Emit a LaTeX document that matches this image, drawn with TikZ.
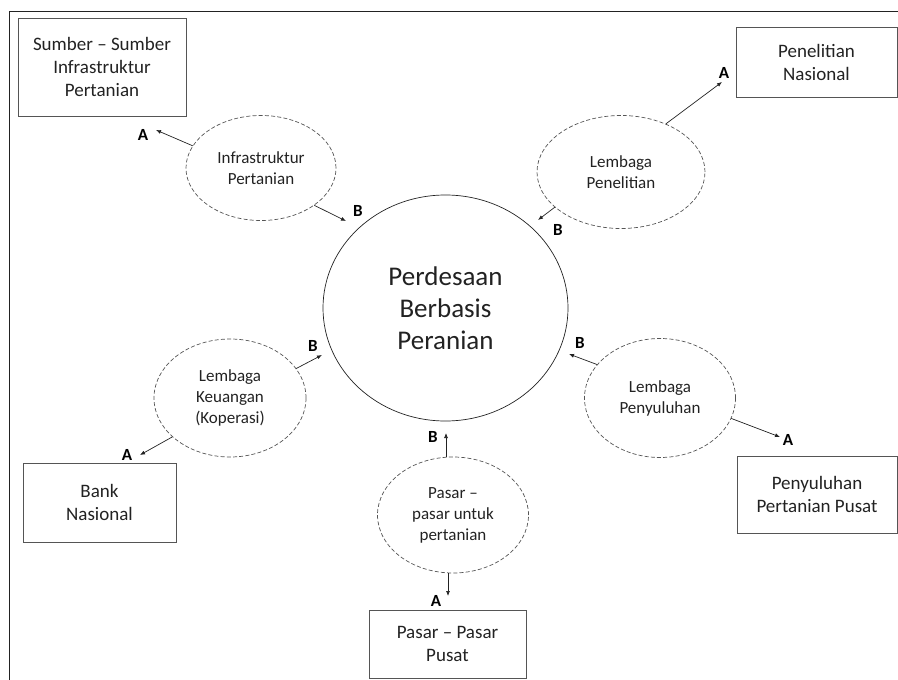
\documentclass[tikz,border=0pt]{standalone}
\usepackage{fontspec}
\setmainfont{Carlito}
\usetikzlibrary{shapes.geometric, arrows.meta, positioning}
\definecolor{ink}{HTML}{222222}
\definecolor{rulecolor}{HTML}{555555}
\tikzset{
  srcbox/.style ={draw=rulecolor, line width=0.8pt, rectangle, align=center,
                  text=ink, inner sep=0pt, font=\fontsize{19}{23}\selectfont},
  lembaga/.style={draw=rulecolor, ellipse, dash pattern=on 4pt off 2.2pt,
                  line width=0.7pt, align=center, text=ink, inner sep=0pt,
                  font=\fontsize{17}{21}\selectfont},
  core/.style   ={draw=ink, ellipse, line width=0.7pt, align=center, text=ink,
                  inner sep=0pt, font=\fontsize{27}{32}\selectfont},
  flow/.style   ={-{Latex[length=5pt,width=4pt]}, line width=0.7pt, draw=ink},
  tag/.style    ={font=\fontsize{17}{19}\selectfont\bfseries, text=black, inner sep=0pt}
}
\begin{document}
\begin{tikzpicture}[x=1pt, y=-1pt]
  \useasboundingbox (0,0) rectangle (898,680);
  % frame
  \draw[line width=0.8pt, draw=ink] (9,680) -- (9,11) -- (898,11);

  % centre
  \node[core, minimum width=245pt, minimum height=226pt] (desa) at (445.5,308)
       {Perdesaan\\Berbasis\\Peranian};

  % lembaga
  \node[lembaga, minimum width=150pt, minimum height=105pt] (infra) at (261,168)
       {Infrastruktur\\Pertanian};
  \node[lembaga, minimum width=168pt, minimum height=113pt] (teliti) at (621,172)
       {Lembaga\\Penelitian};
  \node[lembaga, minimum width=152pt, minimum height=118pt] (uang) at (230,398)
       {Lembaga\\Keuangan\\(Koperasi)};
  \node[lembaga, minimum width=151pt, minimum height=116pt] (pasar) at (453,515)
       {Pasar –\\pasar untuk\\pertanian};
  \node[lembaga, minimum width=151pt, minimum height=119pt] (suluh) at (660,398)
       {Lembaga\\Penyuluhan};

  % sumber
  \node[srcbox, minimum width=168pt, minimum height=98pt] (sumber) at (102,67)
       {Sumber – Sumber\\Infrastruktur\\Pertanian};
  \node[srcbox, minimum width=161pt, minimum height=70pt] (nasional) at (816.5,62)
       {Penelitian\\Nasional};
  \node[srcbox, minimum width=153pt, minimum height=79pt] (bank) at (99.5,502.5)
       {Bank\\Nasional};
  \node[srcbox, minimum width=157pt, minimum height=68pt] (pusat) at (447.5,644)
       {Pasar – Pasar\\Pusat};
  \node[srcbox, minimum width=160pt, minimum height=77pt] (ppusat) at (817,494.5)
       {Penyuluhan\\Pertanian Pusat};

  % arrow tips
  \coordinate (aInfra) at (156,130);
  \coordinate (bInfra) at (346,221);
  \coordinate (aTeliti) at (722,82);
  \coordinate (bTeliti) at (538,220);
  \coordinate (bUang) at (322,355);
  \coordinate (aUang) at (140,455);
  \coordinate (bPasar) at (446,433);
  \coordinate (aPasar) at (448,596);
  \coordinate (bSuluh) at (569,354);
  \coordinate (aSuluh) at (780,437);

  \draw[flow] (infra.162) -- (aInfra);
  \draw[flow] (infra.-35) -- (bInfra);
  \draw[flow] (teliti.47) -- (aTeliti);
  \draw[flow] (teliti.208) -- (bTeliti);
  \draw[flow] (uang.24) -- (bUang);
  \draw[flow] (uang.214) -- (aUang);
  \draw[flow] (bPasar |- pasar.north) -- (bPasar);
  \draw[flow] (aPasar |- pasar.south) -- (aPasar);
  \draw[flow] (suluh.152) -- (bSuluh);
  \draw[flow] (suluh.-16) -- (aSuluh);

  % labels
  \node[tag] (tAinfra) at (143,135) {A};
  \node[tag] (tBinfra) at (358,211) {B};
  \node[tag] (tAteliti) at (724,73) {A};
  \node[tag] (tBteliti) at (558,230) {B};
  \node[tag] (tBuang) at (313,346) {B};
  \node[tag] (tAuang) at (127,455) {A};
  \node[tag] (tBpasar) at (433,437) {B};
  \node[tag] (tApasar) at (436,601) {A};
  \node[tag] (tBsuluh) at (580,343) {B};
  \node[tag] (tAsuluh) at (788,440) {A};
\end{tikzpicture}
\end{document}
